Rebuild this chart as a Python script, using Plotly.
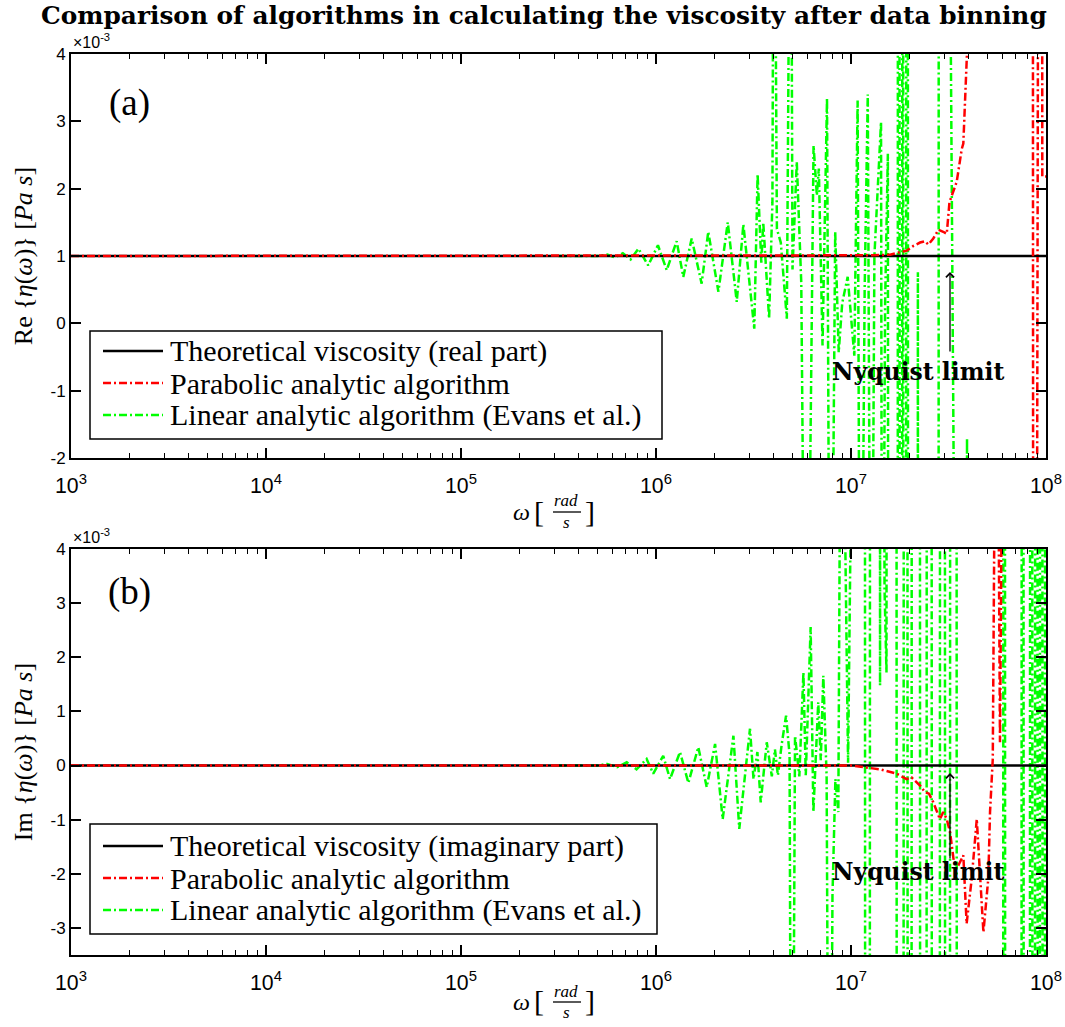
import numpy as np
import plotly.graph_objects as go

# ---------------------------------------------------------------------------
# Data: frequencies are given as log10(omega [rad/s]); viscosities in 1e-3 Pa s
# ---------------------------------------------------------------------------
theory_lg = [3.0, 8.0]
theory_re = [1.0, 1.0]
theory_im = [0.0, 0.0]

# (a) real part, parabolic analytic algorithm
par_re_lg = [3.0, 7.0, 7.114, 7.200, 7.251, 7.286, 7.320, 7.354, 7.379, 7.397,
             7.422, 7.448, 7.473, 7.491, 7.505, 7.542, 7.568, 7.576, 7.603, 7.650,
             7.800, 7.930, 7.937, 7.943, 7.975, 7.981, 8.0]
par_re = [1.0, 1.0, 1.01, 1.02, 1.05, 1.08, 1.15, 1.20, 1.22, 1.17,
          1.26, 1.39, 1.36, 1.33, 1.80, 2.10, 2.59, 2.67, 4.6, 12.0,
          25.0, 30.0, -30.0, 30.0, 30.0, 2.18, 2.18]

# (a) real part, linear analytic algorithm (Evans et al.)
lin_re_lg = [5.50, 5.70, 5.75, 5.79, 5.83, 5.87, 5.91, 5.96, 6.010, 6.055,
             6.106, 6.140, 6.183, 6.234, 6.268, 6.320, 6.368, 6.414, 6.448, 6.504,
             6.521, 6.540, 6.550, 6.580, 6.597, 6.605, 6.620, 6.640, 6.671, 6.691,
             6.700, 6.722, 6.745, 6.770, 6.808, 6.825, 6.835, 6.854, 6.877, 6.894,
             6.919, 6.937, 6.955, 6.983, 7.017, 7.034, 7.048, 7.070, 7.086, 7.103,
             7.120, 7.154, 7.160, 7.175, 7.189, 7.197, 7.238, 7.242, 7.247, 7.251,
             7.259, 7.263, 7.266, 7.270, 7.281, 7.285, 7.290, 7.294, 7.340, 7.343,
             7.346, 7.448, 7.451, 7.454, 7.592, 7.595, 7.598, 8.0]
lin_re = [1.00, 1.00, 1.02, 0.98, 1.04, 0.95, 1.11, 0.86, 1.16, 0.79,
          1.22, 0.69, 1.26, 0.59, 1.36, 0.47, 1.50, 0.32, 1.47, -0.08,
          2.21, 0.90, 1.50, 0.07, 1.80, 9.0, 1.40, 1.20, 0.07, 9.0,
          0.80, 2.40, 0.60, -8.0, 2.64, 1.90, 2.30, -0.33, 3.34, -8.0,
          1.36, -0.43, 0.30, 0.69, -0.48, 3.31, -8.0, 0.50, 3.40, -8.0,
          1.00, 2.99, -8.0, 0.30, 2.52, -30.0, -30.0, 30.0, 30.0, -30.0,
          -30.0, 30.0, 30.0, -30.0, -30.0, 30.0, 30.0, -30.0, -30.0, 0.76,
          -30.0, -30.0, 30.0, -30.0, -30.0, -1.71, -30.0, -30.0]

# (b) imaginary part, parabolic analytic algorithm
par_im_lg = [3.0, 7.0, 7.063, 7.149, 7.234, 7.285, 7.311, 7.354, 7.379, 7.400,
             7.422, 7.456, 7.473, 7.491, 7.508, 7.528, 7.550, 7.576, 7.593, 7.619,
             7.645, 7.679, 7.704, 7.713, 7.727, 7.738, 7.755, 7.764, 7.775, 8.0]
par_im = [0.0, 0.0, -0.03, -0.07, -0.15, -0.25, -0.22, -0.37, -0.49, -0.52,
          -0.68, -0.99, -0.86, -0.99, -1.23, -1.79, -1.85, -1.66, -2.92, -2.09,
          -0.99, -3.08, -2.09, -0.86, 0.12, 6.0, 6.0, 0.43, 6.0, 30.0]

# (b) imaginary part, linear analytic algorithm (Evans et al.)
lin_im_lg = [5.50, 5.70, 5.75, 5.80, 5.85, 5.90, 5.952, 5.986, 6.037, 6.072,
             6.123, 6.166, 6.217, 6.260, 6.303, 6.342, 6.397, 6.427, 6.482, 6.500,
             6.520, 6.537, 6.568, 6.594, 6.610, 6.625, 6.645, 6.667, 6.685, 6.696,
             6.713, 6.735, 6.756, 6.768, 6.793, 6.807, 6.832, 6.845, 6.858, 6.875,
             6.890, 6.905, 6.920, 6.935, 6.950, 6.985, 7.015, 7.070, 7.074, 7.095,
             7.099, 7.146, 7.149, 7.152, 7.172, 7.182, 7.186, 7.232, 7.236, 7.268,
             7.272, 7.288, 7.292, 7.309, 7.313, 7.352, 7.356, 7.386, 7.390, 7.412,
             7.416, 7.454, 7.458, 7.480, 7.484, 7.506, 7.510, 7.540, 7.544, 7.779,
             7.783, 7.788, 7.792, 7.873, 7.877, 7.883, 7.887, 7.916, 7.920, 7.928,
             7.932, 7.942, 7.946, 7.955, 7.959, 7.967, 7.971, 7.980, 7.984, 7.993,
             7.997, 8.0]
lin_im = [0.0, 0.0, 0.03, -0.03, 0.06, -0.07, 0.12, -0.15, 0.18, -0.25,
          0.25, -0.32, 0.34, -0.40, 0.40, -0.99, 0.55, -1.17, 0.68, -0.25,
          0.25, -0.68, 0.43, -0.20, 0.30, -0.18, 0.40, 0.92, 0.20, -12.0,
          0.55, -0.20, 1.72, -0.18, 2.56, -0.86, 1.17, 0.10, 1.66, -0.20,
          -12.0, -2.40, -0.25, -0.86, 10.0, 0.05, 10.0, 30.0, -30.0, -30.0,
          30.0, 30.0, 1.48, 30.0, 3.26, 1.72, 30.0, 30.0, -30.0, -30.0,
          30.0, 30.0, -30.0, -30.0, 30.0, 30.0, -30.0, -30.0, 30.0, 30.0,
          -30.0, -30.0, 30.0, 30.0, -30.0, -30.0, 30.0, 30.0, -30.0, -30.0,
          30.0, 30.0, -30.0, -30.0, 30.0, 30.0, -30.0, -30.0, 30.0, 30.0,
          -30.0, -30.0, 30.0, 30.0, -30.0, -30.0, 30.0, 30.0, -30.0, -30.0,
          30.0, 30.0]

legend_a = ["Theoretical viscosity (real part)", "Parabolic analytic algorithm",
            "Linear analytic algorithm (Evans et al.)"]
legend_b = ["Theoretical viscosity (imaginary part)", "Parabolic analytic algorithm",
            "Linear analytic algorithm (Evans et al.)"]

y_ticks_a = [-2, -1, 0, 1, 2, 3, 4]
y_ticks_b = [-3, -2, -1, 0, 1, 2, 3, 4]

# ---------------------------------------------------------------------------
W, H = 1065, 1027
ML, MR, MT, MB = 71, 19, 54, 72
PW, PH = W - ML - MR, H - MT - MB


def px_x(p):
    return (p - ML) / PW


def px_y(p):
    return (H - MB - p) / PH


SERIF = "Liberation Serif"
SERIF_B = "DejaVu Serif"
SANS = "Liberation Sans"
GREEN = "#00ff00"
RED = "#ff0000"
DASHDOT = "8px,3px,2px,3px"
STYLES = [dict(color="black", width=2.5),
          dict(color=RED, width=2.5, dash=DASHDOT),
          dict(color=GREEN, width=2.5, dash=DASHDOT)]


def w(lg):
    return [10.0 ** v for v in lg]


fig = go.Figure()

panels = [
    ("x", "y", legend_a, theory_re, par_re_lg, par_re, lin_re_lg, lin_re),
    ("x2", "y2", legend_b, theory_im, par_im_lg, par_im, lin_im_lg, lin_im),
]
for xa, ya, names, th, plg, pv, llg, lv in panels:
    fig.add_trace(go.Scatter(x=w(llg), y=lv, xaxis=xa, yaxis=ya, mode="lines",
                             name=names[2], line=STYLES[2]))
    fig.add_trace(go.Scatter(x=w(theory_lg), y=th, xaxis=xa, yaxis=ya, mode="lines",
                             name=names[0], line=STYLES[0]))
    fig.add_trace(go.Scatter(x=w(plg), y=pv, xaxis=xa, yaxis=ya, mode="lines",
                             name=names[1], line=STYLES[1]))

ax_common = dict(showline=True, linewidth=2, linecolor="black", mirror="ticks",
                 ticks="inside", ticklen=10, tickwidth=1.5, tickcolor="black",
                 showgrid=False, zeroline=False, automargin=False,
                 tickfont=dict(family=SANS, size=17, color="black"))

xa_common = dict(ax_common, type="log", range=[3, 8], dtick=1, exponentformat="power",
                 ticklabelstandoff=8,
                 minor=dict(ticks="inside", ticklen=5, tickwidth=1.2, tickcolor="black",
                            showgrid=False))

dom_a = [px_y(458), px_y(54)]
dom_b = [px_y(955), px_y(549)]

ytitle_font = dict(family=SERIF, size=26, color="black")

fig.update_layout(
    width=W, height=H,
    margin=dict(l=ML, r=MR, t=MT, b=MB),
    paper_bgcolor="white", plot_bgcolor="white",
    showlegend=False,
    xaxis=dict(xa_common, domain=[0, 1], anchor="y"),
    yaxis=dict(ax_common, domain=dom_a, anchor="x", range=[-2, 4],
               tickvals=y_ticks_a, ticktext=[str(v) for v in y_ticks_a],
               title=dict(text="Re {<i>η</i>(<i>ω</i>)} [<i>Pa s</i>]",
                          font=ytitle_font, standoff=10)),
    xaxis2=dict(xa_common, domain=[0, 1], anchor="y2"),
    yaxis2=dict(ax_common, domain=dom_b, anchor="x2", range=[-3.5, 4],
                tickvals=y_ticks_b, ticktext=[str(v) for v in y_ticks_b],
                title=dict(text="Im {<i>η</i>(<i>ω</i>)} [<i>Pa s</i>]",
                           font=ytitle_font, standoff=10)),
)

ann = []
shapes = []


def label(text, x, y, size, family=SERIF, anchor="center"):
    ann.append(dict(text=text, x=px_x(x), y=px_y(y), xref="paper", yref="paper",
                    showarrow=False, xanchor=anchor, yanchor="middle",
                    font=dict(family=family, size=size, color="black")))


# title
label("<b>Comparison of algorithms in calculating the viscosity after data binning</b>",
      544, 16, 24.8, family=SERIF_B)

# legend boxes: (left, top, right, bottom, row centres), entries in legend order
legend_boxes = [((90, 331, 662, 439, [351, 383, 415]), legend_a),
                ((90, 824, 657, 934, [846, 878, 910]), legend_b)]
for (x0, y0, x1, y1, rows), names in legend_boxes:
    shapes.append(dict(type="rect", xref="paper", yref="paper", layer="above",
                       x0=px_x(x0), x1=px_x(x1), y0=px_y(y1), y1=px_y(y0),
                       fillcolor="white", line=dict(color="black", width=1.5)))
    for ry, name, style in zip(rows, names, STYLES):
        shapes.append(dict(type="line", xref="paper", yref="paper", layer="above",
                           x0=px_x(x0 + 13), x1=px_x(x0 + 73), y0=px_y(ry), y1=px_y(ry),
                           line=style))
        label(name, x0 + 78, ry, 30, anchor="left")

for top, off in [(54, 0), (549, 490)]:
    # exponent marker
    ann.append(dict(text="×10<sup>-3</sup>", x=px_x(71), y=px_y(top - 1), xref="paper", yref="paper",
                    showarrow=False, xanchor="left", yanchor="bottom",
                    font=dict(family=SANS, size=16, color="black")))
    # x axis label with a stacked fraction
    yb = 511 + off
    label("<i>ω</i>", 521, yb + 1, 24)
    label("[", 539, yb, 30)
    label("]", 590, yb, 30)
    label("<i>rad</i>", 566, yb - 10, 17)
    label("<i>s</i>", 566, yb + 11, 17)
    shapes.append(dict(type="line", xref="paper", yref="paper",
                       x0=px_x(553), x1=px_x(581), y0=px_y(yb + 1), y1=px_y(yb + 1),
                       line=dict(color="black", width=1.3)))

label("(a)", 129, 103, 37)
label("(b)", 129, 592, 37)

for ty, tip, tail in [(372, 272, 353), (872, 773, 860)]:
    label("<b>Nyquist limit</b>", 918, ty, 23.5, family=SERIF_B)
    ann.append(dict(text="", x=px_x(950), y=px_y(tip), xref="paper", yref="paper",
                    showarrow=True, ax=0, ay=tail - tip, arrowhead=4, arrowsize=1.2,
                    arrowwidth=1.3, arrowcolor="black"))

fig.update_layout(annotations=ann, shapes=shapes)
fig.write_html("out.html")
